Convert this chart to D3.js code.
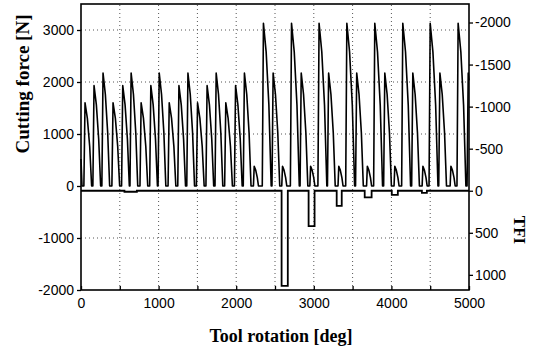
<!DOCTYPE html>
<html>

<head>
	<meta charset="utf-8">
	<script src="https://cdn.jsdelivr.net/npm/d3@7"></script>
	<style>
		body {
			margin: 0;
			background: #fff;
		}

		.axis text {
			font-family: "Liberation Sans", Arial, sans-serif;
			font-size: 14px;
			fill: #000;
		}

		.axis line,
		.axis path {
			stroke: #000;
			stroke-width: 1.3;
		}

		.title {
			font-family: "Liberation Serif", "Times New Roman", serif;
			font-weight: bold;
			fill: #000;
		}

		.grid line {
			stroke: #555;
			stroke-width: 1;
			stroke-dasharray: 1, 3;
		}
	</style>
</head>

<body>
	<svg></svg>
	<script>
		// cutting force [deg, N], one row per tooth pass
		var forcePoints = [
			[0, 520], [13, 0],
			[37, 0], [52, 1600], [82, 1300], [112, 760], [137, 0],
			[153, 0], [168, 1930], [198, 1560], [228, 900], [253, 0],
			[269, 0], [284, 2170], [314, 1760], [344, 1020], [369, 0],
			[398, 0], [413, 1600], [443, 1300], [473, 760], [498, 0],
			[523, 0], [538, 1930], [568, 1560], [598, 900], [623, 0],
			[631, 0], [646, 2170], [676, 1760], [706, 1020], [731, 0],
			[760, 0], [775, 1600], [805, 1300], [835, 760], [860, 0],
			[885, 0], [900, 1930], [930, 1560], [960, 900], [985, 0],
			[993, 0], [1008, 2170], [1038, 1760], [1068, 1020], [1093, 0],
			[1122, 0], [1137, 1600], [1167, 1300], [1197, 760], [1222, 0],
			[1247, 0], [1262, 1930], [1292, 1560], [1322, 900], [1347, 0],
			[1363, 0], [1378, 2170], [1408, 1760], [1438, 1020], [1463, 0],
			[1487, 0], [1502, 1600], [1532, 1300], [1562, 760], [1587, 0],
			[1610, 0], [1625, 1930], [1655, 1560], [1685, 900], [1710, 0],
			[1727, 0], [1742, 2170], [1772, 1760], [1802, 1020], [1827, 0],
			[1851, 0], [1866, 1600], [1896, 1300], [1926, 760], [1951, 0],
			[1977, 0], [1992, 1930], [2022, 1560], [2052, 900], [2077, 0],
			[2091, 0], [2106, 2170], [2136, 1760], [2166, 1020], [2191, 0],
			[2222, 0], [2232, 380], [2252, 300], [2272, 160], [2287, 0],
			[2336, 0], [2351, 3130], [2386, 2580], [2421, 1560], [2451, 0],
			[2461, 0], [2476, 2170], [2506, 1760], [2536, 1020], [2561, 0],
			[2587, 0], [2597, 380], [2617, 300], [2637, 160], [2652, 0],
			[2698, 0], [2713, 3130], [2748, 2580], [2783, 1560], [2813, 0],
			[2823, 0], [2838, 2170], [2868, 1760], [2898, 1020], [2923, 0],
			[2949, 0], [2959, 380], [2979, 300], [2999, 160], [3014, 0],
			[3053, 0], [3068, 3130], [3103, 2580], [3138, 1560], [3168, 0],
			[3176, 0], [3191, 2170], [3221, 1760], [3251, 1020], [3276, 0],
			[3312, 0], [3322, 380], [3342, 300], [3362, 160], [3377, 0],
			[3411, 0], [3426, 3130], [3461, 2580], [3496, 1560], [3526, 0],
			[3538, 0], [3553, 2170], [3583, 1760], [3613, 1020], [3638, 0],
			[3680, 0], [3690, 380], [3710, 300], [3730, 160], [3745, 0],
			[3771, 0], [3786, 3130], [3821, 2580], [3856, 1560], [3886, 0],
			[3900, 0], [3915, 2170], [3945, 1760], [3975, 1020], [4000, 0],
			[4034, 0], [4044, 380], [4064, 300], [4084, 160], [4099, 0],
			[4132, 0], [4147, 3130], [4182, 2580], [4217, 1560], [4247, 0],
			[4261, 0], [4276, 2170], [4306, 1760], [4336, 1020], [4361, 0],
			[4396, 0], [4406, 380], [4426, 300], [4446, 160], [4461, 0],
			[4485, 0], [4500, 3130], [4535, 2580], [4570, 1560], [4600, 0],
			[4610, 0], [4625, 2170], [4655, 1760], [4685, 1020], [4710, 0],
			[4757, 0], [4767, 380], [4787, 300], [4807, 160], [4822, 0],
			[4845, 0], [4860, 3130], [4895, 2580], [4930, 1560], [4960, 0],
			[4975, 0], [4990, 2170], [5000, 2030]
		];

		// TFI as steps: value holds from this angle to the next one
		var tfiSteps = [
			[0, 0], [560, 12], [720, 0],
			[2585, 1130], [2665, 0],
			[2933, 420], [3010, 0],
			[3295, 180], [3360, 0],
			[3656, 80], [3745, 0],
			[4005, 50], [4083, 0],
			[4393, 25], [4457, 0],
			[5000, 0]
		];

		var xTicks = [0, 500, 1000, 1500, 2000, 2500, 3000, 3500, 4000, 4500, 5000];
		var forceTicks = [-2000, -1000, 0, 1000, 2000, 3000];
		var tfiTicks = [-2000, -1500, -1000, -500, 0, 500, 1000];
		var xGrid = [500, 1000, 1500, 2000, 2500, 3000, 3500, 4000, 4500];
		var yGrid = [-1000, 1000, 2000, 3000];

		var W = 534, H = 347;
		var margins = { left: 81, right: 65, top: 4, bottom: 57 };

		var svg = d3.select("svg")
			.attr("width", W)
			.attr("height", H);

		var x = d3.scaleLinear()
			.domain([0, 5000])
			.range([margins.left, W - margins.right]);
		var yF = d3.scaleLinear()
			.domain([-2000, 3500])
			.range([H - margins.bottom, margins.top]);
		var yT = d3.scaleLinear()
			.domain([1180, -2220])
			.range([H - margins.bottom, margins.top]);

		// dotted grid
		var grid = svg.append("g").attr("class", "grid");
		grid.selectAll(".gx")
			.data(xGrid)
			.enter()
			.append("line")
			.attr("x1", d => x(d))
			.attr("x2", d => x(d))
			.attr("y1", yF.range()[0])
			.attr("y2", yF.range()[1]);
		grid.selectAll(".gy")
			.data(yGrid)
			.enter()
			.append("line")
			.attr("x1", x.range()[0])
			.attr("x2", x.range()[1])
			.attr("y1", d => yF(d))
			.attr("y2", d => yF(d));

		// TFI step line
		svg.append("path")
			.datum(tfiSteps)
			.attr("fill", "none")
			.attr("stroke", "#000")
			.attr("stroke-width", 1.8)
			.attr("d", d3.line()
				.x(d => x(d[0]))
				.y(d => yT(d[1]))
				.curve(d3.curveStepAfter));

		// force trace
		svg.append("path")
			.datum(forcePoints)
			.attr("fill", "none")
			.attr("stroke", "#000")
			.attr("stroke-width", 1.6)
			.attr("stroke-linejoin", "round")
			.attr("d", d3.line()
				.x(d => x(d[0]))
				.y(d => yF(d[1])));

		// frame
		svg.append("rect")
			.attr("x", x.range()[0])
			.attr("y", margins.top)
			.attr("width", x.range()[1] - x.range()[0])
			.attr("height", yF.range()[0] - margins.top)
			.attr("fill", "none")
			.attr("stroke", "#000")
			.attr("stroke-width", 1.6);

		svg.append("g")
			.attr("class", "axis")
			.attr("transform", "translate(" + margins.left + ",0)")
			.call(d3.axisLeft(yF).tickValues(forceTicks).tickSizeInner(4).tickSizeOuter(0).tickPadding(3)
				.tickFormat(d => String(d)))
			.call(g => g.select(".domain").remove());

		svg.append("g")
			.attr("class", "axis")
			.attr("transform", "translate(" + (W - margins.right) + ",0)")
			.call(d3.axisRight(yT).tickValues(tfiTicks).tickSizeInner(4).tickSizeOuter(0).tickPadding(2)
				.tickFormat(d => String(d)))
			.call(g => g.select(".domain").remove());

		svg.append("g")
			.attr("class", "axis")
			.attr("transform", "translate(0," + (H - margins.bottom) + ")")
			.call(d3.axisBottom(x).tickValues(xTicks).tickSizeInner(-4).tickSizeOuter(0).tickPadding(8)
				.tickFormat(d => d % 1000 === 0 ? String(d) : ""))
			.call(g => g.select(".domain").remove());

		svg.append("text")
			.attr("class", "title")
			.attr("font-size", 19)
			.attr("text-anchor", "middle")
			.attr("transform", "translate(29,84) rotate(-90)")
			.text("Cutting force [N]");

		svg.append("text")
			.attr("class", "title")
			.attr("font-size", 18)
			.attr("text-anchor", "middle")
			.attr("x", 281)
			.attr("y", 342)
			.text("Tool rotation [deg]");

		svg.append("text")
			.attr("class", "title")
			.attr("font-size", 17)
			.attr("text-anchor", "middle")
			.attr("transform", "translate(514,230) rotate(90)")
			.text("TFI");
	</script>
</body>

</html>
